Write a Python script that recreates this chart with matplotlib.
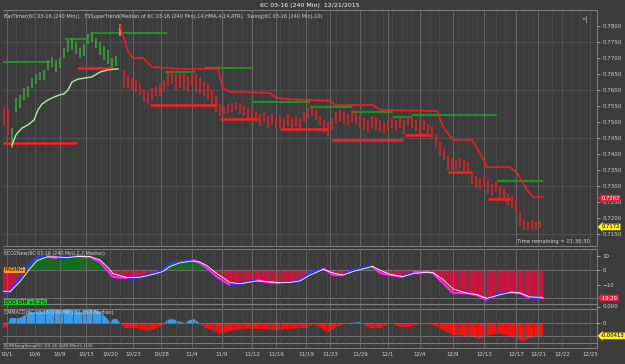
import numpy as np
import matplotlib
matplotlib.use("Agg")
import matplotlib.pyplot as plt
from matplotlib.collections import LineCollection

# ---- data: x is the bar position on the time axis ----
bar_x = np.arange(4, 541, 4)
bar_hi = [0.7544, 0.7538, 0.7481, 0.7575, 0.7585, 0.7606, 0.7613, 0.7638, 0.7650, 0.7656,
          0.7663, 0.7694, 0.7703, 0.7694, 0.7700, 0.7731, 0.7756, 0.7763, 0.7750, 0.7731,
          0.7744, 0.7775, 0.7778, 0.7763, 0.7750, 0.7738, 0.7725, 0.7700, 0.7706, 0.7806,
          0.7663, 0.7644, 0.7638, 0.7631, 0.7619, 0.7600, 0.7594, 0.7606, 0.7613, 0.7619,
          0.7631, 0.7656, 0.7663, 0.7650, 0.7656, 0.7650, 0.7644, 0.7656, 0.7650, 0.7638,
          0.7625, 0.7619, 0.7600, 0.7581, 0.7556, 0.7550, 0.7556, 0.7560, 0.7563, 0.7556,
          0.7550, 0.7544, 0.7538, 0.7531, 0.7525, 0.7531, 0.7519, 0.7525, 0.7513, 0.7519,
          0.7513, 0.7525, 0.7513, 0.7519, 0.7513, 0.7531, 0.7544, 0.7550, 0.7538, 0.7519,
          0.7506, 0.7500, 0.7513, 0.7531, 0.7538, 0.7531, 0.7525, 0.7538, 0.7531, 0.7519,
          0.7513, 0.7506, 0.7519, 0.7513, 0.7506, 0.7500, 0.7506, 0.7513, 0.7506, 0.7513,
          0.7506, 0.7519, 0.7513, 0.7506, 0.7500, 0.7506, 0.7494, 0.7488, 0.7463, 0.7438,
          0.7419, 0.7394, 0.7388, 0.7381, 0.7388, 0.7381, 0.7375, 0.7344, 0.7331, 0.7325,
          0.7331, 0.7319, 0.7306, 0.7313, 0.7300, 0.7294, 0.7275, 0.7269, 0.7256, 0.7219,
          0.7194, 0.7188, 0.7194, 0.7188, 0.7191]
bar_lo = [0.7491, 0.7460, 0.7419, 0.7531, 0.7544, 0.7569, 0.7578, 0.7606, 0.7619, 0.7631,
          0.7631, 0.7663, 0.7672, 0.7656, 0.7669, 0.7700, 0.7719, 0.7725, 0.7713, 0.7700,
          0.7706, 0.7744, 0.7750, 0.7731, 0.7710, 0.7694, 0.7681, 0.7669, 0.7675, 0.7769,
          0.7606, 0.7606, 0.7600, 0.7594, 0.7585, 0.7563, 0.7556, 0.7569, 0.7581, 0.7581,
          0.7594, 0.7613, 0.7619, 0.7600, 0.7606, 0.7600, 0.7594, 0.7613, 0.7594, 0.7588,
          0.7581, 0.7569, 0.7556, 0.7531, 0.7519, 0.7525, 0.7528, 0.7531, 0.7538, 0.7525,
          0.7519, 0.7513, 0.7506, 0.7500, 0.7488, 0.7500, 0.7481, 0.7494, 0.7481, 0.7481,
          0.7475, 0.7488, 0.7481, 0.7485, 0.7478, 0.7500, 0.7513, 0.7519, 0.7506, 0.7488,
          0.7469, 0.7456, 0.7475, 0.7494, 0.7500, 0.7494, 0.7488, 0.7500, 0.7494, 0.7481,
          0.7475, 0.7469, 0.7481, 0.7475, 0.7469, 0.7466, 0.7475, 0.7481, 0.7472, 0.7481,
          0.7463, 0.7488, 0.7481, 0.7469, 0.7463, 0.7475, 0.7456, 0.7450, 0.7419, 0.7394,
          0.7381, 0.7350, 0.7350, 0.7350, 0.7356, 0.7344, 0.7344, 0.7306, 0.7294, 0.7288,
          0.7300, 0.7275, 0.7269, 0.7281, 0.7263, 0.7256, 0.7238, 0.7231, 0.7219, 0.7175,
          0.7163, 0.7163, 0.7166, 0.7163, 0.7169]
last_price = 0.7172

# TSSuperTrend: up-trend (lime) and down-trend (red) stops
st_up_x = [12, 16, 22, 28, 34, 38, 42, 48, 54, 60, 64, 68, 72, 78, 86, 92, 100, 108, 118]
st_up_p = [0.7428, 0.7460, 0.7481, 0.7491, 0.7506, 0.7538, 0.7556, 0.7569, 0.7578, 0.7585,
           0.7588, 0.7600, 0.7625, 0.7634, 0.7638, 0.7641, 0.7656, 0.7663, 0.7666]
st_dn_x = [120, 124, 128, 133, 143, 152, 167, 180, 218, 223, 230, 270, 275, 283, 330, 335,
           373, 380, 437, 443, 453, 472, 480, 487, 510, 517, 527, 533, 543]
st_dn_p = [0.7800, 0.7763, 0.7719, 0.7700, 0.7700, 0.7672, 0.7669, 0.7666, 0.7666, 0.7606,
           0.7594, 0.7591, 0.7578, 0.7572, 0.7566, 0.7553, 0.7553, 0.7538, 0.7534, 0.7485,
           0.7444, 0.7444, 0.7403, 0.7359, 0.7359, 0.7341, 0.7288, 0.7266, 0.7266]
st_last = 0.7262

# Swing highs / lows (start, end, level)
swing_hi_x0 = [3, 65, 90, 165, 205, 252, 310, 352, 393, 412, 497]
swing_hi_x1 = [50, 88, 167, 195, 252, 310, 352, 393, 412, 497, 543]
swing_hi_p = [0.7688, 0.7759, 0.7778, 0.7656, 0.7669, 0.7563, 0.7547, 0.7531, 0.7516, 0.7522, 0.7316]
swing_lo_x0 = [3, 77, 150, 220, 280, 332, 405, 448, 488]
swing_lo_x1 = [77, 113, 217, 258, 327, 403, 430, 472, 510]
swing_lo_p = [0.7434, 0.7669, 0.7553, 0.7510, 0.7478, 0.7444, 0.7460, 0.7344, 0.7260]

# oscillator panel
osc_x = [3, 10, 20, 30, 37, 47, 57, 67, 77, 90, 100, 107, 113, 127, 140, 153, 163, 170, 180,
         193, 200, 207, 217, 230, 240, 257, 267, 280, 290, 300, 310, 320, 323, 333, 343, 353,
         367, 372, 380, 390, 403, 413, 427, 433, 443, 453, 467, 477, 487, 500, 510, 520, 530,
         540, 543]
osc_v = [-15.9, -15.2, -4.8, 4.8, 9.0, 9.7, 8.3, 9.0, 9.7, 9.0, 5.5, 0.0, -4.8, -5.5, -4.8,
         -2.1, 0.0, 4.8, 5.5, 6.9, 4.8, 1.4, -4.8, -10.3, -9.0, -6.9, -8.3, -9.0, -8.3, -6.9,
         -1.4, 0.0, 1.4, -3.4, -3.4, 0.0, 2.1, 2.8, -2.1, -3.4, -4.8, -1.4, -1.4, -2.1, -9.0,
         -15.9, -15.9, -17.2, -20.7, -15.9, -15.2, -15.9, -19.3, -18.6, -19.3]
sig_v = [-14.5, -15.0, -8.0, 1.0, 6.5, 9.0, 9.0, 8.6, 9.3, 9.3, 7.0, 2.5, -2.5, -5.2, -5.0,
         -3.0, -1.0, 2.5, 5.0, 6.3, 5.5, 3.0, -2.5, -8.5, -9.5, -7.5, -8.0, -8.8, -8.5, -7.5,
         -3.5, -0.5, 0.5, -2.0, -3.5, -1.0, 1.5, 2.5, 0.0, -3.0, -4.5, -2.5, -1.5, -1.8, -6.5,
         -13.0, -16.0, -17.0, -19.5, -17.0, -15.5, -15.8, -18.5, -18.8, -19.2]
osc_last = -19.29

# CMMACD panel
macd_x = [3, 7, 10, 20, 30, 43, 53, 63, 70, 80, 90, 100, 107, 110, 113, 117, 120, 125, 135,
          147, 153, 160, 165, 167, 173, 177, 185, 190, 195, 199, 205, 212, 220, 230, 245, 260,
          275, 290, 300, 307, 313, 320, 328, 337, 345, 360, 370, 380, 390, 400, 410, 420, 433,
          443, 453, 465, 480, 490, 500, 510, 523, 530, 540, 543]
macd_v = [-0.0016, -0.0013, 0.0016, 0.0016, 0.0035, 0.0038, 0.0048, 0.0041, 0.0048, 0.0035,
          0.0048, 0.0035, 0.0016, 0.0, 0.0013, 0.0013, 0.0, -0.0016, -0.0016, -0.0025, -0.0022,
          -0.0010, 0.0, 0.0010, 0.0013, 0.0006, 0.0, 0.0010, 0.0013, 0.0, -0.0016, -0.0022,
          -0.0035, -0.0025, -0.0019, -0.0019, -0.0022, -0.0019, -0.0016, -0.0016, -0.0003,
          -0.0013, -0.0029, -0.0013, -0.0001, 0.0003, -0.0016, -0.0016, 0.0, -0.0013, -0.0013,
          0.0, -0.0006, -0.0022, -0.0038, -0.0041, -0.0051, -0.0038, -0.0035, -0.0041, -0.0060,
          -0.0048, -0.0041, -0.0041]
macd_last = -0.00413

date_pos = [7, 35, 60, 86, 110, 133, 161, 192, 222, 252, 276, 306, 330, 360, 388, 420,
            453, 484, 516, 538, 562, 590]
date_lbl = ["10/1", "10/6", "10/9", "10/15", "10/20", "10/23", "10/28", "11/4", "11/9",
            "11/12", "11/16", "11/19", "11/23", "11/26", "12/1", "12/4", "12/9", "12/13",
            "12/17", "12/21", "12/22", "12/25"]

# ---- style ----
BG = "#3c3c3c"
TXT = "#d2d2d2"
EDGE = "#8c8c8c"
W, H = 625, 364

fig = plt.figure(figsize=(W / 100, H / 100), dpi=100, facecolor=BG)


def panel(top, bottom):
    ax = fig.add_axes([3 / W, 1 - bottom / H, 594 / W, (bottom - top) / H])
    ax.set_facecolor(BG)
    ax.set_xlim(3, 597)
    ax.spines["left"].set_visible(False)
    for s in ["right", "top", "bottom"]:
        ax.spines[s].set_color(EDGE)
        ax.spines[s].set_linewidth(0.6)
    ax.set_xticks(date_pos)
    ax.set_xticks(np.arange(7, 597, 9.4), minor=True)
    ax.grid(axis="x", which="major", color="#6c6c6c", lw=0.6)
    ax.grid(axis="x", which="minor", color="#4a4a4a", lw=0.5)
    ax.tick_params(axis="x", which="both", length=0, labelbottom=False)
    ax.yaxis.tick_right()
    ax.tick_params(axis="y", labelsize=4, colors=TXT, length=2, width=0.5, pad=2)
    return ax


def badge(ax, y, s, fc, tc):
    ax.annotate(s, xy=(1, y), xycoords=("axes fraction", "data"), xytext=(3, 0),
                textcoords="offset points", fontsize=3.8, color=tc, va="center", ha="left",
                bbox=dict(boxstyle="larrow,pad=0.15", fc=fc, ec="none"), annotation_clip=False)


# ---- main price panel ----
ax = panel(10, 246)
ax.set_ylim(0.71125, 0.7850)
ax.set_yticks(np.arange(0.7150, 0.78001, 0.005))
ax.yaxis.set_major_formatter(plt.FormatStrFormatter("%.4f"))
for g in [0.7150, 0.7300, 0.7450, 0.7600, 0.7750]:
    ax.axhline(g, color="#575757", lw=0.6, zorder=0)

bar_col = []
for x in bar_x:
    if 12 <= x <= 116:
        bar_col.append("#3daa3d")
    elif x == 120:
        bar_col.append("#ff8a8a")
    else:
        bar_col.append("#e8202a")
ax.vlines(bar_x, bar_lo, bar_hi, colors=bar_col, lw=1.1, zorder=3)

ax.hlines(swing_hi_p, swing_hi_x0, swing_hi_x1, colors="#1e9a1e", lw=1.3, zorder=2)
ax.hlines(swing_lo_p, swing_lo_x0, swing_lo_x1, colors="#ff2020", lw=1.8, zorder=2)
ax.plot(st_up_x, st_up_p, color="#a8f0a0", lw=1.0, zorder=4)
ax.plot(st_dn_x, st_dn_p, color="#e8202a", lw=1.2, zorder=4)

badge(ax, st_last, "0.7262", "#e3203a", "white")
badge(ax, last_price, "0.7172", "#ffee22", "black")

ax.text(0.002, 0.985, "BarTimer(6C 03-16 (240 Min)),  TSSuperTrend(Median of 6C 03-16 (240 Min),14,HMA,4,14,ATR),  "
        "Swing(6C 03-16 (240 Min),10)", transform=ax.transAxes, fontsize=3.6, color=TXT,
        va="top", ha="left")
ax.text(0.988, 0.008, "Time remaining = 01:36:30", transform=ax.transAxes, fontsize=3.8,
        color=TXT, va="bottom", ha="right")
ax.text(0.985, 0.975, "»|", transform=ax.transAxes, fontsize=5, color="#bbbbbb",
        va="top", ha="right")

# ---- oscillator panel ----
ao = panel(249, 304)
ao.set_ylim(-23.4, 14.5)
ao.set_yticks([10, 0, -10])
ao.set_axisbelow(False)
ao.axhline(0, color="#7a7a7a", lw=0.6, zorder=1)
ao.axhline(osc_last, color="#7a7a7a", lw=0.6, zorder=1)
ao.fill_between(osc_x, osc_v, 0, where=np.array(osc_v) >= 0, interpolate=True,
                color="#136b1c", lw=0, zorder=0.5)
ao.fill_between(osc_x, osc_v, 0, where=np.array(osc_v) <= 0, interpolate=True,
                color="#c4163e", lw=0, zorder=0.5)
pts = np.column_stack([osc_x, osc_v])
segs = np.stack([pts[:-1], pts[1:]], axis=1)
seg_col = ["#3535ff" if osc_v[i + 1] > osc_v[i] else "#ff22ff" for i in range(len(osc_v) - 1)]
ao.add_collection(LineCollection(segs, colors=seg_col, lw=1.6, zorder=3))
ao.plot(osc_x, sig_v, color="white", lw=0.6, zorder=4)
badge(ao, osc_last, "-19.29", "#e3203a", "white")
ao.text(0.002, 0.96, "ECO2New(6C 03-16 (240 Min),2,7,Median)", transform=ao.transAxes,
        fontsize=3.4, color=TXT, va="top", ha="left")
ao.text(0.003, 0.62, "FADING", transform=ao.transAxes, fontsize=3.8, color="black",
        va="center", ha="left", bbox=dict(boxstyle="square,pad=0.15", fc="#ff9a1a", ec="none"))

# ---- thin EOD panel ----
ae = panel(304, 309)
ae.set_ylim(-1, 1)
ae.set_yticks([0])
ae.set_yticklabels(["0.000"])
ae.text(0.003, 1.4, "EOD Diff +0.2%", transform=ae.transAxes, fontsize=3.8, color="black",
        va="center", ha="left", bbox=dict(boxstyle="square,pad=0.15", fc="#27c427", ec="none"))

# ---- CMMACD panel ----
am = panel(309, 343)
am.set_ylim(-0.0064, 0.0045)
am.set_yticks([0])
am.set_yticklabels(["0"])
am.set_axisbelow(False)
am.axhline(0, color="#7a7a7a", lw=0.6, zorder=1)
am.axhline(macd_last, color="#7a7a7a", lw=0.6, zorder=1)
am.fill_between(macd_x, macd_v, 0, where=np.array(macd_v) >= 0, interpolate=True,
                color="#3a9be8", lw=0, zorder=0.5)
am.fill_between(macd_x, macd_v, 0, where=np.array(macd_v) <= 0, interpolate=True,
                color="#ee1515", lw=0, zorder=0.5)
badge(am, macd_last, "-0.00413", "#ffee22", "black")
am.text(0.002, 0.97, "CMMACD(6C 03-16 (240 Min),12,26,9,Median)", transform=am.transAxes,
        fontsize=3.4, color=TXT, va="top", ha="left")

# ---- bottom thin panel with dates ----
ab = panel(343, 348)
ab.set_ylim(0, 1)
ab.set_yticks([])
ab.tick_params(axis="x", which="major", labelbottom=True, labelsize=4, colors=TXT, pad=2.5)
ab.set_xticklabels(date_lbl)
ab.text(0.002, 0.5, "B (RHangSeng(6C 03-16 (240 Min)), U.0)", transform=ab.transAxes,
        fontsize=3.2, color=TXT, va="center", ha="left")

fig.text(310 / W, 1 - 5 / H, "6C 03-16 (240 Min)  12/21/2015", fontsize=4.5, color="white",
         ha="center", va="center")

fig.savefig("out.png", dpi=100, facecolor=BG)
